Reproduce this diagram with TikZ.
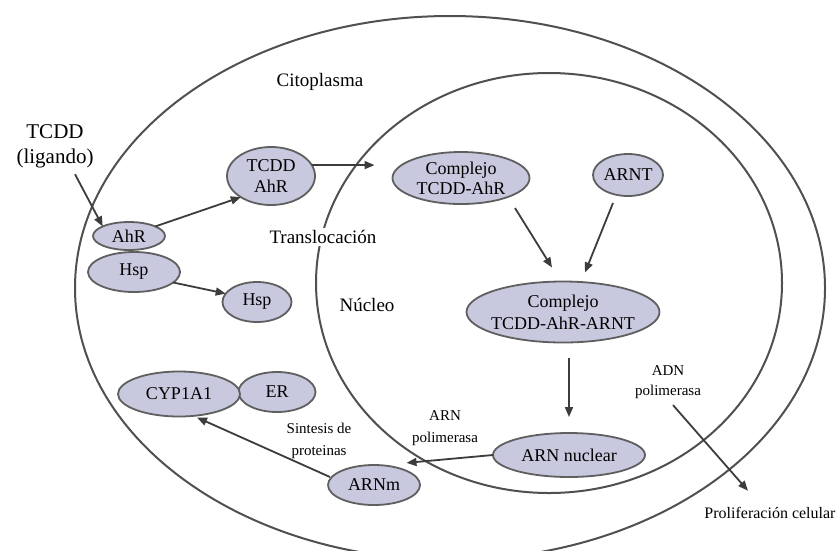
\documentclass[tikz,border=0pt]{standalone}
\usepackage{fontspec}
\setmainfont{Liberation Serif}
\usetikzlibrary{shapes.geometric,arrows.meta,calc}
\definecolor{nodefill}{RGB}{200,200,222}
\definecolor{nodeline}{RGB}{95,95,95}
\definecolor{cellline}{RGB}{80,80,80}
\definecolor{arrowcol}{RGB}{60,60,60}
\begin{document}
\begin{tikzpicture}[x=1pt,y=-1pt,
  mol/.style={ellipse,draw=nodeline,line width=1.8pt,fill=nodefill,inner sep=0pt,outer sep=0pt,align=center,font=\fontsize{18}{21}\selectfont},
  lbl/.style={align=center,font=\fontsize{15}{21}\selectfont},
  big/.style={align=center,font=\fontsize{19}{22}\selectfont},
  arr/.style={draw=arrowcol,line width=1.8pt,-{Triangle[length=10pt,width=8pt]}},
  cell/.style={draw=cellline,line width=2pt}]
\useasboundingbox (0,0) rectangle (840,550);
\clip (0,0) rectangle (840,550);
\fill[white] (0,0) rectangle (840,550);
% cell and nucleus
\draw[cell] (450,288) ellipse [x radius=375, y radius=272];
\draw[cell] (549,283) ellipse [x radius=233, y radius=210];
% labels
\node[align=center,font=\fontsize{21}{25}\selectfont] (tcdd) at (55,146) {TCDD\\(ligando)};
\node[big] (cito) at (320,82) {Citoplasma};
\node[big,fill=white,inner sep=2pt] (transl) at (323,237) {Translocación};
\node[big] (nucleo) at (367,305) {Núcleo};
\node[lbl,font=\fontsize{15}{22}\selectfont] (arnpol) at (445,428) {ARN\\polimerasa};
\node[lbl,font=\fontsize{15}{22}\selectfont] (sint) at (319,441) {Sintesis de\\proteinas};
\node[lbl,font=\fontsize{15}{20}\selectfont] (adn) at (668,382) {ADN\\polimerasa};
\node[font=\fontsize{16}{19}\selectfont] (prol) at (770,513) {Proliferación celular};
% molecules
\node[mol,minimum width=92pt,minimum height=40pt] (hspl) at (134,272) {Hsp};
\node[mol,minimum width=72pt,minimum height=28pt] (ahr) at (129,236) {AhR};
\node[mol,minimum width=88pt,minimum height=58pt] (tcddahr) at (271,176) {TCDD\\AhR};
\node[mol,minimum width=69pt,minimum height=40pt] (hspr) at (257,302) {Hsp};
\node[mol,minimum width=137pt,minimum height=52pt,font=\fontsize{18}{20}\selectfont] (cx1) at (461,178) {Complejo\\TCDD-AhR};
\node[mol,minimum width=70pt,minimum height=42pt] (arnt) at (628,175) {ARNT};
\node[mol,minimum width=193pt,minimum height=61pt,font=\fontsize{18}{22}\selectfont] (cx2) at (563,312) {Complejo\\\makebox[130pt]{TCDD-AhR-ARNT}};
\node[mol,minimum width=152pt,minimum height=44pt] (arnn) at (569,455) {ARN nuclear};
\node[mol,minimum width=92pt,minimum height=40pt] (arnm) at (374,485) {ARNm};
\node[mol,minimum width=77pt,minimum height=40pt] (er) at (277,392) {ER};
\node[mol,minimum width=122pt,minimum height=45pt] (cyp) at (179,394) {CYP1A1};
% arrows
\draw[arr] ($(tcdd.south)+(20,3)$) -- (ahr.160);
\draw[arr] (ahr.20) -- (tcddahr.215);
\draw[arr] (hspl.-15) -- (hspr.165);
\draw[arr,shorten >=18pt] (tcddahr.15) -- (tcddahr.15 -| cx1.west);
\draw[arr] ($(cx1.south)+(54,4)$) -- ($(cx2.north)+(-11,-14)$);
\draw[arr] ($(arnt.south)+(-15,7)$) -- ($(cx2.north)+(22,-9)$);
\draw[arr] ($(cx2.south)+(6,15)$) -- ($(arnn.north)+(0,-16)$);
\draw[arr] (arnn.west) -- ($(arnm.north east)+(0,-8)$);
\draw[arr] ($(arnm.west)+(2,-8)$) -- ($(cyp.south)+(18,1)$);
\draw[arr] ($(adn.south)+(5,3)$) -- ($(prol.north)+(-22,-13)$);
\end{tikzpicture}
\end{document}
